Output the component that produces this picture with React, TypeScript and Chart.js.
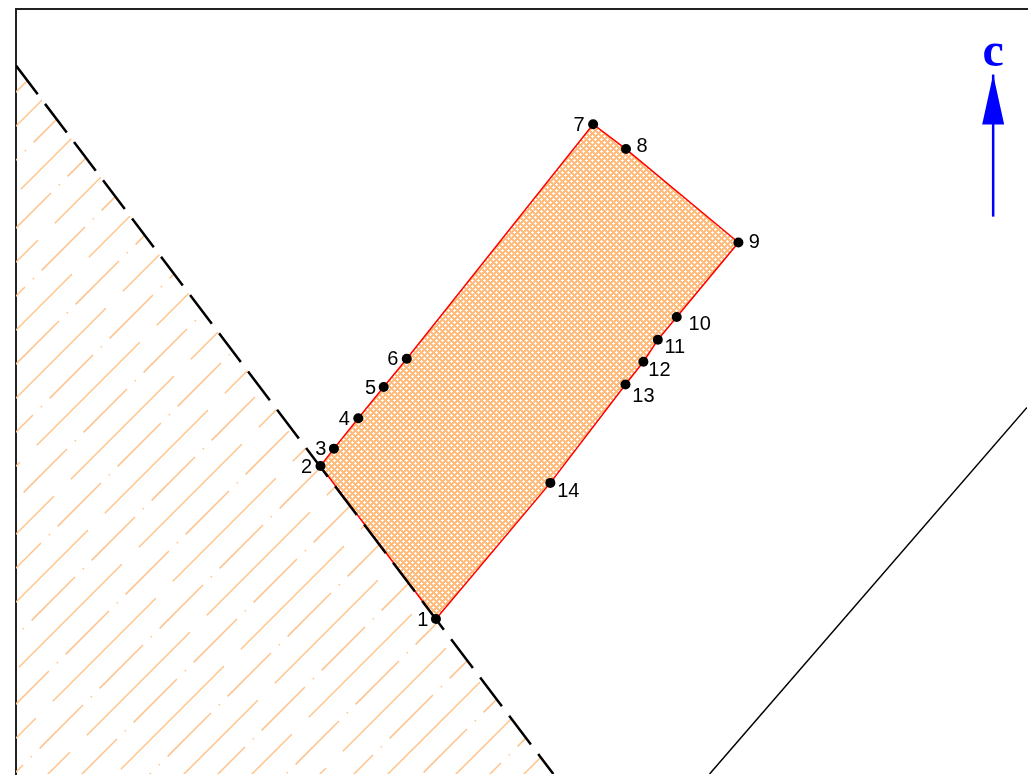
import React, { useEffect, useRef } from 'react';
import { Chart, registerables } from 'chart.js';

Chart.register(...registerables);

// ---- data (chart units) ----
const vertexLabels = ['1', '2', '3', '4', '5', '6', '7', '8', '9', '10', '11', '12', '13', '14'];
const vertexX = [42.2, 30.6, 31.95, 34.4, 36.95, 39.27, 58.0, 61.3, 72.6, 66.4, 64.5, 63.05, 61.25, 53.7];
const vertexY = [15.6, 31.0, 32.75, 35.8, 38.95, 41.8, 65.4, 62.9, 53.5, 46.0, 43.7, 41.5, 39.2, 29.3];

const boundaryX = [0, 54.0];
const boundaryY = [71.3, 0];

const hatchX = [0, 0, 54.0, 0];
const hatchY = [0, 71.3, 0, 0];

const lineX = [69.7, 101.6];
const lineY = [0, 36.9];

const arrowX = [98.2, 98.2];
const arrowY = [56.1, 70.4];
const arrowLabel = 'c';
const arrowLabelY = 71.3;

const xRange = [0, 101.6];
const yRange = [0, 77.0];

// ---- styling ----
const labelOffsets: number[][] = [
  [-13, 1], [-14, 1], [-13, 1], [-14, 1], [-13, 1], [-14, 1], [-14, 1],
  [16, -3], [16, 0], [23, 7], [17, 8], [16, 9], [18, 12], [18, 9],
];

function makeHatch(w: number, h: number) {
  const c = document.createElement('canvas');
  c.width = w;
  c.height = h;
  const g = c.getContext('2d')!;
  g.strokeStyle = '#FFC48C';
  g.lineWidth = 1.5;
  const s2 = Math.SQRT2;
  const x0 = -60;
  const x1 = w + 60;
  for (let k = 0; 6 + 34 * k < w + h + 100; k++) {
    const cc = 6 + 34 * k;
    g.beginPath();
    g.moveTo(x0, cc - x0);
    g.lineTo(x1, cc - x1);
    if (k % 2 === 1) {
      const period = 60 * s2;
      const dash = period - 23.5;
      g.setLineDash([dash, 11, 1.5, 11]);
      const xd = 33.3 + 17 * (k - 9);
      const sd = (xd - x0) * s2;
      let off = dash + 11.75 - sd;
      off = ((off % period) + period) % period;
      g.lineDashOffset = off;
    } else {
      const period = 120 * s2;
      g.setLineDash([period - 24, 24]);
      const xg = 33.3 + 17 * (k - 10) + 47;
      const sg = (xg - x0) * s2;
      let off = period - 12 - sg;
      off = ((off % period) + period) % period;
      g.lineDashOffset = off;
    }
    g.stroke();
  }
  return c;
}

function makeCross() {
  const c = document.createElement('canvas');
  c.width = 6;
  c.height = 6;
  const g = c.getContext('2d')!;
  g.fillStyle = '#FFBC7C';
  g.fillRect(0, 0, 6, 6);
  g.fillStyle = '#FFFFFF';
  [[1, 1], [4, 4]].forEach(([cx, cy]) => {
    g.fillRect(cx - 1, cy, 3, 1);
    g.fillRect(cx, cy - 1, 1, 3);
  });
  return c;
}

const annotPlugin = {
  id: 'annot',
  afterDatasetsDraw(chart: any) {
    const { ctx, scales } = chart;
    const x = scales.x;
    const y = scales.y;
    const meta = chart.getDatasetMeta(0);
    ctx.save();
    ctx.font = '20px "Liberation Sans", Arial, sans-serif';
    ctx.fillStyle = '#000';
    ctx.textAlign = 'center';
    ctx.textBaseline = 'middle';
    meta.data.forEach((el: any, i: number) => {
      const [dx, dy] = labelOffsets[i];
      ctx.fillText(vertexLabels[i], el.x + dx, el.y + dy);
    });
    // arrow head
    const bx = x.getPixelForValue(arrowX[0]);
    const by = y.getPixelForValue(arrowY[0]);
    const tx = x.getPixelForValue(arrowX[1]);
    const ty = y.getPixelForValue(arrowY[1]);
    const len = Math.hypot(tx - bx, ty - by);
    const ux = (tx - bx) / len;
    const uy = (ty - by) / len;
    const headLen = 50;
    const halfW = 11;
    const hx = tx - ux * headLen;
    const hy = ty - uy * headLen;
    ctx.fillStyle = '#0000FF';
    ctx.beginPath();
    ctx.moveTo(tx, ty);
    ctx.lineTo(hx - uy * halfW, hy + ux * halfW);
    ctx.lineTo(hx + uy * halfW, hy - ux * halfW);
    ctx.closePath();
    ctx.fill();
    ctx.font = 'bold 48px "Liberation Serif", "Times New Roman", serif';
    ctx.textBaseline = 'alphabetic';
    ctx.fillText(arrowLabel, tx, y.getPixelForValue(arrowLabelY));
    ctx.restore();
  },
};

export default function App() {
  const ref = useRef<HTMLCanvasElement>(null);
  useEffect(() => {
    const canvas = ref.current!;
    const W = 1032;
    const H = 779;
    const ctx = canvas.getContext('2d')!;
    const hatchPattern = ctx.createPattern(makeHatch(W, H), 'no-repeat');
    const crossPattern = ctx.createPattern(makeCross(), 'repeat');
    const pts = (xs: number[], ys: number[]) => xs.map((v, i) => ({ x: v, y: ys[i] }));
    const poly = pts(vertexX, vertexY);
    poly.push({ ...poly[0] });

    const chart = new Chart(canvas, {
      type: 'scatter',
      data: {
        datasets: [
          {
            label: 'vertices',
            data: pts(vertexX, vertexY),
            order: 0,
            pointRadius: 5,
            pointBackgroundColor: '#000',
            pointBorderColor: '#000',
            pointBorderWidth: 0,
            showLine: false,
          },
          {
            label: 'boundary',
            data: pts(boundaryX, boundaryY),
            order: 1,
            showLine: true,
            borderColor: '#000',
            borderWidth: 2.5,
            borderDash: [36, 12],
            pointRadius: 0,
            fill: false,
          },
          {
            label: 'objective',
            data: pts(arrowX, arrowY),
            order: 1,
            showLine: true,
            borderColor: '#0000FF',
            borderWidth: 2.5,
            pointRadius: 0,
            fill: false,
          },
          {
            label: 'region',
            data: poly,
            order: 2,
            showLine: true,
            borderColor: '#FF0000',
            borderWidth: 1.5,
            backgroundColor: crossPattern as any,
            fill: 'shape',
            pointRadius: 0,
          },
          {
            label: 'line',
            data: pts(lineX, lineY),
            order: 2,
            showLine: true,
            borderColor: '#000',
            borderWidth: 1.5,
            pointRadius: 0,
            fill: false,
          },
          {
            label: 'hatch',
            data: pts(hatchX, hatchY),
            order: 3,
            showLine: true,
            borderColor: 'rgba(0,0,0,0)',
            borderWidth: 0,
            backgroundColor: hatchPattern as any,
            fill: 'shape',
            pointRadius: 0,
          },
        ],
      } as any,
      options: {
        animation: false,
        responsive: false,
        events: [],
        layout: { padding: { left: 16, top: 9, right: 0, bottom: 0 } },
        plugins: { legend: { display: false }, tooltip: { enabled: false } },
        scales: {
          x: {
            type: 'linear',
            position: 'top',
            min: xRange[0],
            max: xRange[1],
            ticks: { display: false },
            grid: { display: false, drawTicks: false },
            border: { display: true, color: '#222', width: 2 },
          },
          y: {
            type: 'linear',
            position: 'left',
            min: yRange[0],
            max: yRange[1],
            ticks: { display: false },
            grid: { display: false, drawTicks: false },
            border: { display: true, color: '#222', width: 2 },
          },
        },
      } as any,
      plugins: [annotPlugin],
    });
    return () => chart.destroy();
  }, []);

  return (
    <div style={{ position: 'absolute', left: 0, top: 0, width: 1032, height: 779 }}>
      <canvas ref={ref} width={1032} height={779} style={{ display: 'block' }} />
    </div>
  );
}
